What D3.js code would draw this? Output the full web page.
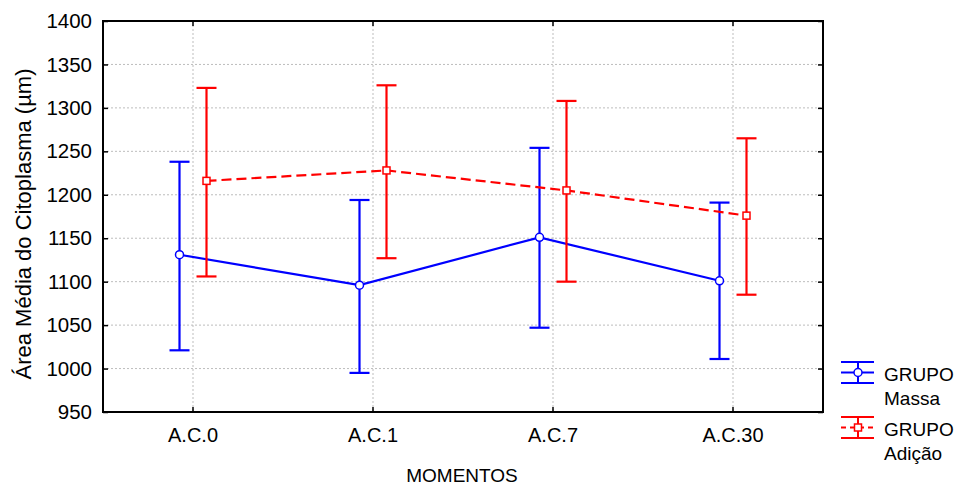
<!DOCTYPE html>
<html>
<head>
<meta charset="utf-8">
<script src="https://cdn.jsdelivr.net/npm/d3@7"></script>
<style>
  body { margin: 0; background: #fff; }
  text { font-family: Arial, "Liberation Sans", sans-serif; fill: #000; }
</style>
</head>
<body>
<div id="chart"></div>
<script>
// data
const momentos = ["A.C.0", "A.C.1", "A.C.7", "A.C.30"];
const grupos = ["Massa", "Adição"];
const massaMean = [1131, 1096, 1151, 1101];
const massaLow = [1021, 995, 1047, 1011];
const massaHigh = [1238, 1194, 1254, 1191];
const adicaoMean = [1216, 1228, 1205, 1176];
const adicaoLow = [1106, 1127, 1100, 1085];
const adicaoHigh = [1323, 1326, 1308, 1265];
const yTicks = [950, 1000, 1050, 1100, 1150, 1200, 1250, 1300, 1350, 1400];

const svg = d3.select("#chart")
    .append("svg")
    .attr("width", 958)
    .attr("height", 487);

const plotL = 103, plotR = 823, plotT = 21, plotB = 412;

const x = d3.scaleBand().domain(momentos).range([plotL, plotR]);
const off = d3.scalePoint().domain(grupos).range([-13.5, 13.5]);
const y = d3.scaleLinear().domain([950, 1400]).range([plotB, plotT]);
const cx = (m, g) => x(m) + x.bandwidth() / 2 + off(g);

// grid
const inner = yTicks.filter(t => t > 950 && t < 1400);
svg.append("g")
    .selectAll("line")
    .data(inner)
    .join("line")
    .attr("x1", plotL).attr("x2", plotR)
    .attr("y1", d => y(d)).attr("y2", d => y(d))
    .style("stroke", "#bdbdbd").style("stroke-dasharray", "2,2");
svg.append("g")
    .selectAll("line")
    .data(momentos)
    .join("line")
    .attr("x1", d => x(d) + x.bandwidth() / 2).attr("x2", d => x(d) + x.bandwidth() / 2)
    .attr("y1", plotT).attr("y2", plotB)
    .style("stroke", "#bdbdbd").style("stroke-dasharray", "2,2");

// axes, ticks pointing inward
const yAxis = svg.append("g")
    .attr("transform", `translate(${plotL},0)`)
    .call(d3.axisLeft(y).tickValues(yTicks).tickFormat(d3.format("d")).tickSize(-5).tickSizeOuter(0).tickPadding(11));
yAxis.selectAll("text").style("font-size", "20.5px").style("font-family", "Arial, 'Liberation Sans', sans-serif");

const xAxis = svg.append("g")
    .attr("transform", `translate(0,${plotB})`)
    .call(d3.axisBottom(x).tickSize(-5).tickSizeOuter(0).tickPadding(16));
xAxis.selectAll("text").style("font-size", "20px").style("font-family", "Arial, 'Liberation Sans', sans-serif");

svg.append("g")
    .attr("transform", `translate(0,${plotT})`)
    .call(d3.axisTop(x).tickSize(-5).tickSizeOuter(0).tickFormat(""));
svg.append("g")
    .attr("transform", `translate(${plotR},0)`)
    .call(d3.axisRight(y).tickValues(yTicks).tickSize(-5).tickSizeOuter(0).tickFormat(""));

svg.selectAll(".domain").remove();
svg.selectAll(".tick line").style("stroke", "#000").style("stroke-width", 1.5);

svg.append("rect")
    .attr("x", plotL).attr("y", plotT)
    .attr("width", plotR - plotL).attr("height", plotB - plotT)
    .style("fill", "none").style("stroke", "#000").style("stroke-width", 2);

// series
const series = [
    { g: "Massa", color: "#0000ff", dash: null, mean: massaMean, low: massaLow, high: massaHigh },
    { g: "Adição", color: "#ff0000", dash: "10,5", mean: adicaoMean, low: adicaoLow, high: adicaoHigh }
];

series.forEach(function (s) {
    const pts = momentos.map((m, i) => ({ m: m, mean: s.mean[i], low: s.low[i], high: s.high[i] }));
    const grp = svg.append("g");

    grp.selectAll(".bar")
        .data(pts)
        .join("line")
        .attr("x1", d => cx(d.m, s.g)).attr("x2", d => cx(d.m, s.g))
        .attr("y1", d => y(d.low)).attr("y2", d => y(d.high))
        .style("stroke", s.color).style("stroke-width", 2.2);
    grp.selectAll(".capH")
        .data(pts)
        .join("line")
        .attr("x1", d => cx(d.m, s.g) - 10).attr("x2", d => cx(d.m, s.g) + 10)
        .attr("y1", d => y(d.high)).attr("y2", d => y(d.high))
        .style("stroke", s.color).style("stroke-width", 2.2);
    grp.selectAll(".capL")
        .data(pts)
        .join("line")
        .attr("x1", d => cx(d.m, s.g) - 10).attr("x2", d => cx(d.m, s.g) + 10)
        .attr("y1", d => y(d.low)).attr("y2", d => y(d.low))
        .style("stroke", s.color).style("stroke-width", 2.2);

    grp.append("path")
        .datum(pts)
        .attr("d", d3.line().x(d => cx(d.m, s.g)).y(d => y(d.mean)))
        .style("fill", "none").style("stroke", s.color).style("stroke-width", 2.2)
        .style("stroke-dasharray", s.dash);

    if (s.g === "Massa") {
        grp.selectAll("circle")
            .data(pts)
            .join("circle")
            .attr("cx", d => cx(d.m, s.g)).attr("cy", d => y(d.mean)).attr("r", 4)
            .style("fill", "#fff").style("stroke", s.color).style("stroke-width", 1.5);
    } else {
        grp.selectAll("rect")
            .data(pts)
            .join("rect")
            .attr("x", d => cx(d.m, s.g) - 3.5).attr("y", d => y(d.mean) - 3.5)
            .attr("width", 7).attr("height", 7)
            .style("fill", "#fff").style("stroke", s.color).style("stroke-width", 1.5);
    }
});

// axis titles
svg.append("text")
    .attr("x", 462).attr("y", 482)
    .attr("text-anchor", "middle")
    .style("font-size", "19px")
    .text("MOMENTOS");
svg.append("text")
    .attr("transform", "translate(31,224) rotate(-90)")
    .attr("text-anchor", "middle")
    .style("font-size", "22px")
    .text("Área Média do Citoplasma (µm)");

// legend
function legendItem(yc, color, g, label) {
    const lg = svg.append("g");
    lg.append("line").attr("x1", 841).attr("x2", 874).attr("y1", yc - 10.5).attr("y2", yc - 10.5)
        .style("stroke", color).style("stroke-width", 2);
    lg.append("line").attr("x1", 841).attr("x2", 874).attr("y1", yc + 10.5).attr("y2", yc + 10.5)
        .style("stroke", color).style("stroke-width", 2);
    lg.append("line").attr("x1", 858).attr("x2", 858).attr("y1", yc - 10.5).attr("y2", yc + 10.5)
        .style("stroke", color).style("stroke-width", 2);
    lg.append("line").attr("x1", 841).attr("x2", 874).attr("y1", yc).attr("y2", yc)
        .style("stroke", color).style("stroke-width", 2)
        .style("stroke-dasharray", g === "Adição" ? "5,4" : null);
    if (g === "Massa") {
        lg.append("circle").attr("cx", 858).attr("cy", yc).attr("r", 4)
            .style("fill", "#fff").style("stroke", color).style("stroke-width", 1.5);
    } else {
        lg.append("rect").attr("x", 854.5).attr("y", yc - 3.5).attr("width", 7).attr("height", 7)
            .style("fill", "#fff").style("stroke", color).style("stroke-width", 1.5);
    }
    lg.append("text").attr("x", 884).attr("y", yc + 8).style("font-size", "19px").text("GRUPO");
    lg.append("text").attr("x", 884).attr("y", yc + 32).style("font-size", "19px").text(label);
}
legendItem(372.5, "#0000ff", "Massa", "Massa");
legendItem(427.5, "#ff0000", "Adição", "Adição");
</script>
</body>
</html>
